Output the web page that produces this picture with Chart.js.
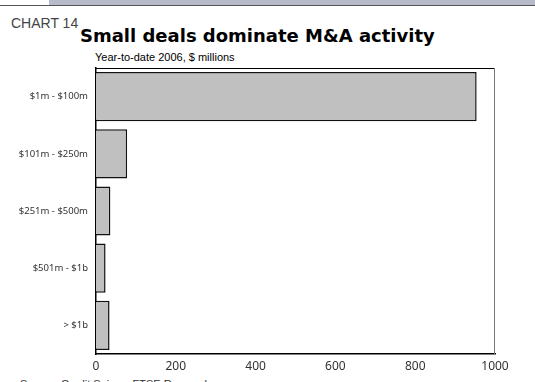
<!DOCTYPE html>
<html>
<head>
<meta charset="utf-8">
<script src="https://cdn.jsdelivr.net/npm/chart.js@4"></script>
<style>
  html, body { margin: 0; padding: 0; background: #fff; }
  #wrap { position: relative; width: 535px; height: 382px; overflow: hidden; }
  #topbar { position: absolute; left: 49px; top: 0; width: 486px; height: 5px; background: #b6bac9; }
  #topline { position: absolute; left: 0; top: 5px; width: 535px; height: 1px; background: #555; }
  .t { position: absolute; white-space: nowrap; }
  #chartno { left: 11px; top: 16px; font: 14px/14px "Liberation Sans", Arial, sans-serif; color: #444; }
  #title { left: 80px; top: 27px; font: bold 18px/18px "DejaVu Sans", Verdana, sans-serif; color: #000; }
  #subtitle { left: 95px; top: 52px; font: 11px/11px "Liberation Sans", Arial, sans-serif; color: #000; }
  #source { left: 20px; top: 379px; font: 11px/11px "Liberation Sans", Arial, sans-serif; color: #333; }
  canvas { position: absolute; left: 0; top: 0; }
</style>
</head>
<body>
<div id="wrap">
  <div id="topbar"></div>
  <div id="topline"></div>
  <div class="t" id="chartno">CHART 14</div>
  <div class="t" id="title">Small deals dominate M&amp;A activity</div>
  <div class="t" id="subtitle">Year-to-date 2006, $ millions</div>
  <div class="t" id="source">Source: Credit Suisse; FTSE Research</div>
  <canvas id="c" width="535" height="382"></canvas>
</div>
<script>
const categories = ["$1m - $100m", "$101m - $250m", "$251m - $500m", "$501m - $1b", "> $1b"];
const values = [954, 78, 36, 24, 34];
const xTicks = [0, 200, 400, 600, 800, 1000];

const framePlugin = {
  id: 'frame',
  afterDraw(chart) {
    const { ctx, chartArea: a } = chart;
    ctx.save();
    ctx.strokeStyle = '#000';
    ctx.lineWidth = 1;
    ctx.beginPath();
    ctx.moveTo(a.left, a.top + 0.5);
    ctx.lineTo(a.right, a.top + 0.5);
    ctx.stroke();
    ctx.strokeStyle = '#777';
    ctx.beginPath();
    ctx.moveTo(a.right - 0.5, a.top);
    ctx.lineTo(a.right - 0.5, a.bottom);
    ctx.stroke();
    ctx.restore();
  }
};

new Chart(document.getElementById('c'), {
  type: 'bar',
  data: {
    labels: categories,
    datasets: [{
      data: values,
      backgroundColor: '#c0c0c0',
      borderColor: '#111',
      borderWidth: 1.5,
      categoryPercentage: 1,
      barPercentage: 0.86
    }]
  },
  options: {
    indexAxis: 'y',
    responsive: false,
    animation: false,
    layout: { padding: { left: 0, top: 68, right: 40, bottom: 0 } },
    plugins: { legend: { display: false }, tooltip: { enabled: false } },
    scales: {
      x: {
        min: 0, max: 1000,
        afterBuildTicks(s) { s.ticks = xTicks.map(v => ({ value: v })); },
        afterFit(s) { s.height = 28; },
        grid: { display: false, drawTicks: false, tickLength: 0 },
        border: { display: true, color: '#000', width: 1.5 },
        ticks: { padding: 5, color: '#333', callback: v => String(v), font: { family: '"Noto Sans", sans-serif', size: 12 } }
      },
      y: {
        afterFit(s) { s.width = 96; },
        grid: { display: false, drawTicks: false, tickLength: 0 },
        border: { display: true, color: '#000', width: 1.5 },
        ticks: { padding: 8, color: '#333', font: { family: '"Noto Sans", sans-serif', size: 9.5 } }
      }
    }
  },
  plugins: [framePlugin]
});
</script>
</body>
</html>
